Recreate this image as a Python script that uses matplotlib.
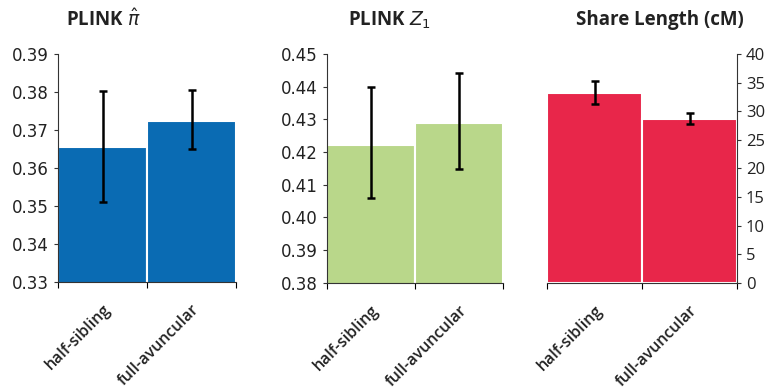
import numpy as np
import matplotlib
matplotlib.use("Agg")
import matplotlib.pyplot as plt
import matplotlib.transforms as mtransforms
from matplotlib.ticker import FormatStrFormatter

plt.rcParams['font.family'] = ['Open Sans', 'DejaVu Sans']
plt.rcParams['mathtext.fontset'] = 'dejavusans'

# data
categories = ['half-sibling', 'full-avuncular']

pi_hat = [0.3656, 0.3724]
pi_hat_lo = [0.3511, 0.3651]
pi_hat_hi = [0.3802, 0.3805]

z1 = [0.4222, 0.4290]
z1_lo = [0.4059, 0.4149]
z1_hi = [0.4398, 0.4443]

share_len = [33.2, 28.6]
share_len_lo = [31.25, 27.75]
share_len_hi = [35.3, 29.7]

titles = [r'PLINK $\hat{\pi}$', r'PLINK $Z_1$', 'Share Length (cM)']
colors = ['#0a6bb3', '#b9d78a', '#e8264a']
ylims = [(0.33, 0.39), (0.38, 0.45), (0, 40)]
ysteps = [0.01, 0.01, 5]

W, H = 775, 388
fig = plt.figure(figsize=(W / 100, H / 100), dpi=100)

# axes boxes in pixels: left, right, top, bottom
boxes = [(58, 236, 54, 282), (327, 503, 54, 282.7), (547, 737, 54, 282.7)]
title_x = [103, 390, 660]

panels = [
    (pi_hat, pi_hat_lo, pi_hat_hi),
    (z1, z1_lo, z1_hi),
    (share_len, share_len_lo, share_len_hi),
]

for i, (vals, lo, hi) in enumerate(panels):
    l, r, t, b = boxes[i]
    ax = fig.add_axes([l / W, 1 - b / H, (r - l) / W, (b - t) / H])
    x = np.arange(1, len(vals) + 1)
    vals = np.array(vals)
    yerr = [vals - np.array(lo), np.array(hi) - vals]
    ax.bar(x, vals, width=1.0, color=colors[i], edgecolor='white', linewidth=1.5,
           bottom=0, zorder=2)
    ax.errorbar(x, vals, yerr=yerr, fmt='none', ecolor='black', elinewidth=1.8,
                capsize=3, capthick=1.8, zorder=3)
    ax.set_xlim(0.5, len(vals) + 0.5)
    ax.set_ylim(*ylims[i])
    y0, y1 = ylims[i]
    ax.set_yticks(np.arange(y0, y1 + ysteps[i] / 2, ysteps[i]))
    if i < 2:
        ax.yaxis.set_major_formatter(FormatStrFormatter('%.2f'))
    for lab in ax.get_yticklabels():
        lab.set_family('DejaVu Sans')
    # category boundaries as ticks, labels at the bar centres
    ax.set_xticks(np.arange(0.5, len(vals) + 1, 1.0))
    ax.set_xticklabels([])
    ax.set_xticks(x, minor=True)
    ax.set_xticklabels(categories, minor=True, rotation=45, ha='right',
                       va='top', rotation_mode='anchor', fontsize=11.5,
                       fontweight='semibold', color='#222222')
    shift = mtransforms.ScaledTranslation(3 / 100, 0, fig.dpi_scale_trans)
    for lab in ax.xaxis.get_minorticklabels():
        lab.set_transform(lab.get_transform() + shift)
    ax.tick_params(axis='x', which='minor', length=0, pad=14)
    ax.tick_params(axis='x', which='major', length=4, width=0.8, direction='out')
    ax.tick_params(axis='y', length=3, width=0.8, labelsize=12, colors='#333333',
                   labelcolor='#222222')
    for s in ax.spines.values():
        s.set_linewidth(0.8)
        s.set_color('#333333')
    ax.spines['top'].set_visible(False)
    if i == 2:
        ax.spines['left'].set_visible(False)
        ax.yaxis.tick_right()
        ax.spines['right'].set_visible(True)
    else:
        ax.spines['right'].set_visible(False)
    ax.set_facecolor('none')
    fig.text(title_x[i] / W, 1 - 20 / H, titles[i], ha='center', va='center',
             fontsize=13.5, fontweight='bold', color='#222222')

fig.savefig('out.png', dpi=100, facecolor='white')
